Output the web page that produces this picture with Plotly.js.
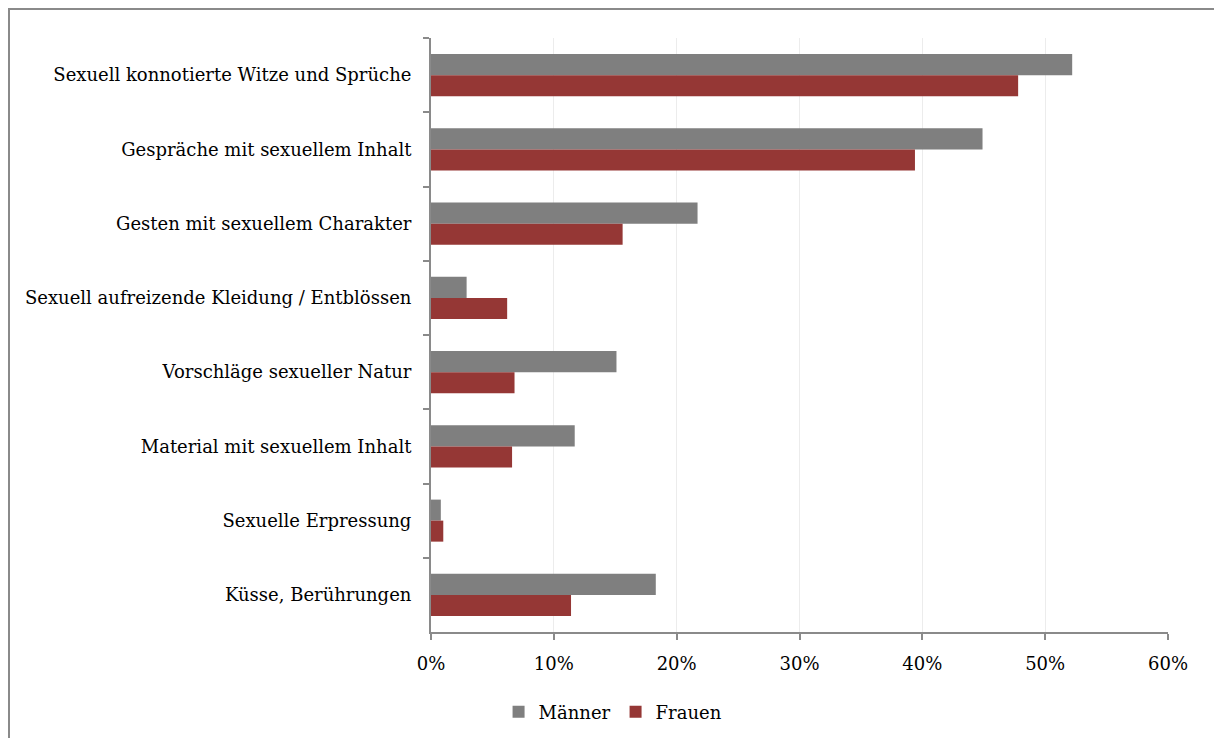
<!DOCTYPE html>
<html>
<head>
<meta charset="utf-8">
<script src="https://cdn.plot.ly/plotly-3.0.1.min.js"></script>
<style>
  html, body { margin: 0; padding: 0; background: #fff; }
  #wrap { position: relative; width: 1214px; height: 738px; }
  #chart { position: absolute; left: 0; top: 0; width: 1214px; height: 738px; }
  #frame { position: absolute; left: 8px; top: 8px; width: 1220px; height: 760px;
           border-left: 2px solid #8a8a8a; border-top: 2px solid #8a8a8a; pointer-events: none; }
</style>
</head>
<body>
<div id="wrap">
  <div id="chart"></div>
  <div id="frame"></div>
</div>
<script>
const categories = [
  "Sexuell konnotierte Witze und Sprüche",
  "Gespräche mit sexuellem Inhalt",
  "Gesten mit sexuellem Charakter",
  "Sexuell aufreizende Kleidung / Entblössen",
  "Vorschläge sexueller Natur",
  "Material mit sexuellem Inhalt",
  "Sexuelle Erpressung",
  "Küsse, Berührungen"
];
const maenner = [0.522, 0.449, 0.217, 0.029, 0.151, 0.117, 0.008, 0.183];
const frauen  = [0.478, 0.394, 0.156, 0.062, 0.068, 0.066, 0.010, 0.114];
const seriesNames = ["Männer", "Frauen"];
const tickVals = [0, 0.1, 0.2, 0.3, 0.4, 0.5, 0.6];
const tickText = ["0%", "10%", "20%", "30%", "40%", "50%", "60%"];

const font = "DejaVu Serif, serif";

const traces = [
  { type: "bar", orientation: "h", name: seriesNames[0], y: categories, x: maenner,
    marker: { color: "#7f7f7f" }, hoverinfo: "x+y" },
  { type: "bar", orientation: "h", name: seriesNames[1], y: categories, x: frauen,
    marker: { color: "#953735" }, hoverinfo: "x+y" }
];

const layout = {
  width: 1214, height: 738,
  margin: { l: 431, r: 46, t: 38, b: 106 },
  paper_bgcolor: "#ffffff", plot_bgcolor: "#ffffff",
  font: { family: font, size: 18, color: "#000" },
  barmode: "group", bargap: 0.434, bargroupgap: 0,
  showlegend: true,
  legend: { orientation: "h", xref: "container", yref: "container",
            x: 0.505, xanchor: "center", y: 0.035, yanchor: "middle",
            font: { family: font, size: 18, color: "#000" },
            itemwidth: 30, traceorder: "normal" },
  xaxis: {
    range: [0, 0.6], tickvals: tickVals, ticktext: tickText,
    showgrid: true, gridcolor: "#ececec", gridwidth: 1,
    zeroline: false, showline: true, linecolor: "#8a8a8a", linewidth: 2,
    ticks: "outside", ticklen: 6, tickcolor: "#8a8a8a", tickwidth: 2,
    ticklabelstandoff: 8,
    tickfont: { family: font, size: 18, color: "#000" }, fixedrange: true
  },
  yaxis: {
    type: "category", autorange: "reversed",
    showgrid: false, zeroline: false, showline: true, linecolor: "#8a8a8a", linewidth: 2,
    ticks: "outside", tickson: "boundaries", ticklen: 6, tickcolor: "#8a8a8a", tickwidth: 2,
    ticklabelstandoff: 14,
    tickfont: { family: font, size: 18, color: "#000" }, fixedrange: true
  }
};

Plotly.newPlot("chart", traces, layout, { displayModeBar: false, staticPlot: true });
</script>
</body>
</html>
